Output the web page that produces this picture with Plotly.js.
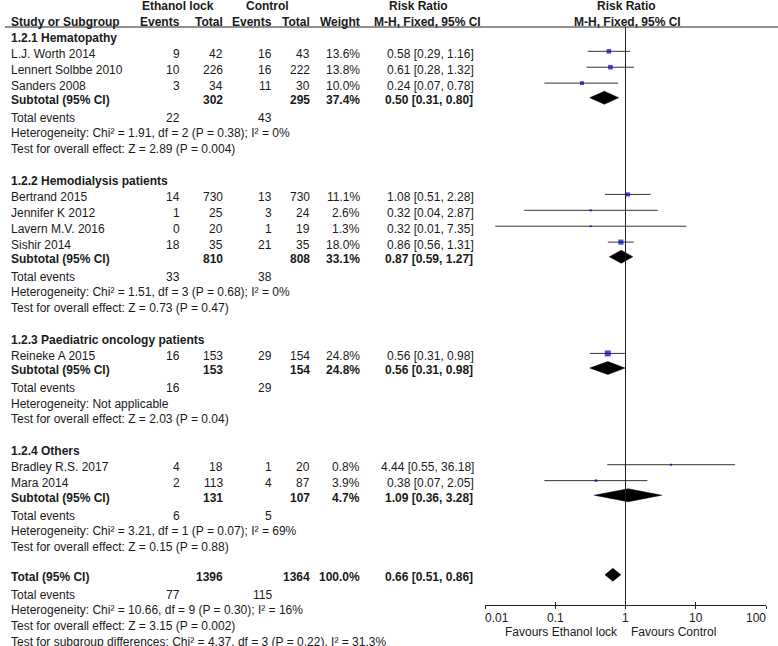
<!DOCTYPE html>
<html>
<head>
<meta charset="utf-8">
<script src="https://cdn.plot.ly/plotly-3.0.1.min.js"></script>
<style>html,body{margin:0;padding:0;background:#fff;}#chart{width:778px;height:646px;}</style>
</head>
<body>
<div id="chart"></div>
<script>
// ---------------- DATA ----------------
const studies = ["L.J. Worth 2014", "Lennert Solbbe 2010", "Sanders 2008",
  "Bertrand 2015", "Jennifer K 2012", "Lavern M.V. 2016", "Sishir 2014",
  "Reineke A 2015", "Bradley R.S. 2017", "Mara 2014"];
const studyGroup = [0, 0, 0, 1, 1, 1, 1, 2, 3, 3];
const ethEvents = [9, 10, 3, 14, 1, 0, 18, 16, 4, 2];
const ethTotal = [42, 226, 34, 730, 25, 20, 35, 153, 18, 113];
const ctlEvents = [16, 16, 11, 13, 3, 1, 21, 29, 1, 4];
const ctlTotal = [43, 222, 30, 730, 24, 19, 35, 154, 20, 87];
const weights = [13.6, 13.8, 10.0, 11.1, 2.6, 1.3, 18.0, 24.8, 0.8, 3.9];
const rr = [0.58, 0.61, 0.24, 1.08, 0.32, 0.32, 0.86, 0.56, 4.44, 0.38];
const ciLow = [0.29, 0.28, 0.07, 0.51, 0.036, 0.014, 0.56, 0.31, 0.55, 0.07];
const ciHigh = [1.16, 1.32, 0.78, 2.28, 2.87, 7.35, 1.31, 0.98, 36.18, 2.05];

const groupNames = ["1.2.1 Hematopathy", "1.2.2 Hemodialysis patients",
  "1.2.3 Paediatric oncology patients", "1.2.4 Others"];
const subEthTotal = [302, 810, 153, 131];
const subCtlTotal = [295, 808, 154, 107];
const subWeight = [37.4, 33.1, 24.8, 4.7];
const subRR = [0.50, 0.87, 0.56, 1.09];
const subLow = [0.31, 0.59, 0.31, 0.36];
const subHigh = [0.80, 1.27, 0.98, 3.28];
const subEthEvents = [22, 33, 16, 6];
const subCtlEvents = [43, 38, 29, 5];
const subHet = [
  "Heterogeneity: Chi² = 1.91, df = 2 (P = 0.38); I² = 0%",
  "Heterogeneity: Chi² = 1.51, df = 3 (P = 0.68); I² = 0%",
  "Heterogeneity: Not applicable",
  "Heterogeneity: Chi² = 3.21, df = 1 (P = 0.07); I² = 69%"];
const subTest = [
  "Test for overall effect: Z = 2.89 (P = 0.004)",
  "Test for overall effect: Z = 0.73 (P = 0.47)",
  "Test for overall effect: Z = 2.03 (P = 0.04)",
  "Test for overall effect: Z = 0.15 (P = 0.88)"];

const totEthTotal = 1396, totCtlTotal = 1364, totWeight = 100.0;
const totRR = 0.66, totLow = 0.51, totHigh = 0.86;
const totEthEvents = 77, totCtlEvents = 115;
const totHet = "Heterogeneity: Chi² = 10.66, df = 9 (P = 0.30); I² = 16%";
const totTest = "Test for overall effect: Z = 3.15 (P = 0.002)";
const totSubDiff = "Test for subgroup differences: Chi² = 4.37, df = 3 (P = 0.22), I² = 31.3%";

const tickVals = [0.01, 0.1, 1, 10, 100];
const tickText = ["0.01", "0.1", "1", "10", "100"];
const favoursLeft = "Favours Ethanol lock";
const favoursRight = "Favours Control";

// ---------------- LAYOUT HELPERS ----------------
const W = 778, H = 646;
const ROW_H = 15.9, ROW0 = 6;           // pixel centre of row 0
const FONT = "Liberation Sans, Arial, sans-serif";
const TXT = "#1a1a1a";
const COL = {name: 11, ee: 180, et: 223, ce: 272, ct: 310, w: 360, rr: 474};
const MARK_OFF = -0.15;
const rowOfPx = p => (p - ROW0) / ROW_H;

const annotations = [];
function txt(text, xPx, row, anchor, bold) {
  annotations.push({
    text: bold ? "<b>" + text + "</b>" : text,
    xref: "paper", yref: "y", x: xPx / W, y: row,
    xanchor: anchor, yanchor: "middle", showarrow: false,
    borderpad: 0, borderwidth: 0,
    font: {family: FONT, size: 12, color: TXT}
  });
}
const fmtCI = (e, l, h) => e.toFixed(2) + " [" + l.toFixed(2) + ", " + h.toFixed(2) + "]";

// headers
txt("Ethanol lock", 178, 0, "center", true);
txt("Control", 267, 0, "center", true);
txt("Risk Ratio", 418, 0, "center", true);
txt("Risk Ratio", 626, 0, "center", true);
txt("Study or Subgroup", COL.name, 1, "left", true);
txt("Events", COL.ee, 1, "right", true);
txt("Total", COL.et, 1, "right", true);
txt("Events", COL.ce, 1, "right", true);
txt("Total", COL.ct, 1, "right", true);
txt("Weight", COL.w, 1, "right", true);
txt("M-H, Fixed, 95% CI", 427, 1, "center", true);
txt("M-H, Fixed, 95% CI", 627, 1, "center", true);

const studyRows = [], diamonds = [];
let r = 2;
groupNames.forEach((g, gi) => {
  txt(g, COL.name, r, "left", true); r++;
  studies.forEach((s, i) => {
    if (studyGroup[i] !== gi) return;
    studyRows[i] = r;
    txt(s, COL.name, r, "left", false);
    txt(String(ethEvents[i]), COL.ee, r, "right", false);
    txt(String(ethTotal[i]), COL.et, r, "right", false);
    txt(String(ctlEvents[i]), COL.ce, r, "right", false);
    txt(String(ctlTotal[i]), COL.ct, r, "right", false);
    txt(weights[i].toFixed(1) + "%", COL.w, r, "right", false);
    txt(fmtCI(rr[i], ciLow[i], ciHigh[i]), COL.rr, r, "right", false);
    r++;
  });
  const sr = r - 0.08;
  txt("Subtotal (95% CI)", COL.name, sr, "left", true);
  txt(String(subEthTotal[gi]), COL.et, sr, "right", true);
  txt(String(subCtlTotal[gi]), COL.ct, sr, "right", true);
  txt(subWeight[gi].toFixed(1) + "%", COL.w, sr, "right", true);
  txt(fmtCI(subRR[gi], subLow[gi], subHigh[gi]), COL.rr - 1, sr, "right", true);
  diamonds.push({e: subRR[gi], l: subLow[gi], h: subHigh[gi], row: sr});
  r++;
  txt("Total events", COL.name, r + 0.05, "left", false);
  txt(String(subEthEvents[gi]), COL.ee, r + 0.05, "right", false);
  txt(String(subCtlEvents[gi]), COL.ce, r + 0.05, "right", false);
  r++;
  txt(subHet[gi], COL.name, r, "left", false); r++;
  txt(subTest[gi], COL.name, r, "left", false); r++;
  r++; // blank
});
const tr = r - 0.08;
txt("Total (95% CI)", COL.name, tr, "left", true);
txt(String(totEthTotal), COL.et, tr, "right", true);
txt(String(totCtlTotal), COL.ct, tr, "right", true);
txt(totWeight.toFixed(1) + "%", COL.w, tr, "right", true);
txt(fmtCI(totRR, totLow, totHigh), COL.rr - 1, tr, "right", true);
diamonds.push({e: totRR, l: totLow, h: totHigh, row: tr});
r++;
txt("Total events", COL.name, r + 0.05, "left", false);
txt(String(totEthEvents), COL.ee, r + 0.05, "right", false);
txt(String(totCtlEvents), COL.ce, r + 0.05, "right", false);
r++;
txt(totHet, COL.name, r, "left", false); r++;
txt(totTest, COL.name, r, "left", false); r++;
txt(totSubDiff, COL.name, r - 0.03, "left", false);

// favours labels
const AXIS_PX = 605;
txt(favoursLeft, 618, rowOfPx(632), "right", false);
txt(favoursRight, 631, rowOfPx(632), "left", false);

// tick labels (ends pulled inside the axis, as in the reference)
tickVals.forEach((v, i) => {
  annotations.push({
    text: tickText[i], xref: "x2", yref: "y", x: Math.log10(v), y: rowOfPx(618),
    xanchor: i === 0 ? "left" : (i === tickVals.length - 1 ? "right" : "center"),
    yanchor: "middle", showarrow: false, borderpad: 0, borderwidth: 0,
    font: {family: FONT, size: 12, color: TXT}
  });
});

// ---------------- TRACES ----------------
const ciX = [], ciY = [];
studies.forEach((s, i) => {
  ciX.push(ciLow[i], ciHigh[i], null);
  const y = studyRows[i] + MARK_OFF;
  ciY.push(y, y, null);
});
const traces = [];
traces.push({
  type: "scatter", mode: "lines", x: ciX, y: ciY, xaxis: "x2", yaxis: "y",
  line: {color: "#333", width: 1}, hoverinfo: "skip", showlegend: false
});
traces.push({
  type: "scatter", mode: "markers", x: rr, y: studyRows.map(v => v + MARK_OFF),
  xaxis: "x2", yaxis: "y",
  marker: {symbol: "square", color: "#0000c0",
    size: weights.map(w => Math.max(2, 1.15 * Math.sqrt(w) + 0.3)),
    line: {width: 0}},
  hoverinfo: "skip", showlegend: false
});
const DH = 0.41;
diamonds.forEach(d => {
  const y = d.row + MARK_OFF;
  traces.push({
    type: "scatter", mode: "lines", fill: "toself", fillcolor: "#000",
    x: [d.l, d.e, d.h, d.e, d.l], y: [y, y - DH, y, y + DH, y],
    xaxis: "x2", yaxis: "y", line: {color: "#000", width: 0.5},
    hoverinfo: "skip", showlegend: false
  });
});
// invisible trace to host the upward-tick axis
traces.push({type: "scatter", mode: "markers", x: [1], y: [0], xaxis: "x3", yaxis: "y",
  marker: {opacity: 0}, hoverinfo: "skip", showlegend: false});

const axPos = 1 - AXIS_PX / H;
const dom = [485 / W, 766 / W];
const headerRow = rowOfPx(27);

const layout = {
  width: W, height: H,
  margin: {l: 0, r: 0, t: 0, b: 0, pad: 0},
  paper_bgcolor: "#fff", plot_bgcolor: "rgba(0,0,0,0)",
  showlegend: false,
  font: {family: FONT, size: 12, color: TXT},
  xaxis2: {
    type: "log", range: [-2, 2], domain: dom, anchor: "free", position: axPos,
    showline: true, linecolor: "#222", linewidth: 1,
    ticks: "outside", ticklen: 3, tickwidth: 1, tickcolor: "#222",
    tickvals: tickVals, showticklabels: false,
    showgrid: false, zeroline: false, fixedrange: true
  },
  xaxis3: {
    type: "log", range: [-2, 2], overlaying: "x2", anchor: "free", position: axPos,
    showline: false, ticks: "inside", ticklen: 3, tickwidth: 1, tickcolor: "#222",
    tickvals: tickVals, showticklabels: false, showgrid: false, zeroline: false
  },
  yaxis: {
    range: [(H - ROW0) / ROW_H, -ROW0 / ROW_H], domain: [0, 1], anchor: "x2",
    visible: false, showgrid: false, zeroline: false, fixedrange: true
  },
  annotations: annotations,
  shapes: [
    {type: "line", xref: "paper", yref: "y", x0: 5 / W, x1: 1, y0: headerRow, y1: headerRow,
      line: {color: "#222", width: 1}},
    {type: "line", xref: "x2", yref: "y", x0: 1, x1: 1, y0: headerRow, y1: rowOfPx(AXIS_PX + 2),
      line: {color: "#222", width: 1}}
  ]
};

Plotly.newPlot("chart", traces, layout, {staticPlot: true, displayModeBar: false});
</script>
</body>
</html>
